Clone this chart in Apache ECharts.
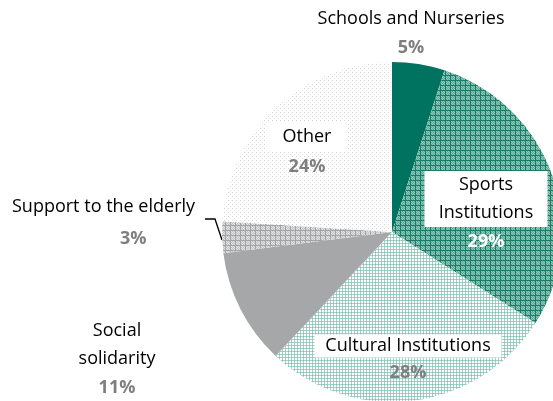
<!DOCTYPE html>
<html>
<head>
<meta charset="utf-8">
<script src="https://cdn.jsdelivr.net/npm/echarts@6/dist/echarts.min.js"></script>
<style>
  html, body { margin: 0; padding: 0; background: #fff; }
  #main { width: 553px; height: 401px; }
</style>
</head>
<body>
<div id="main"></div>
<script>
// data
var categories = ['Schools and Nurseries', 'Sports Institutions', 'Cultural Institutions', 'Social solidarity', 'Support to the elderly', 'Other'];
var shares = [5, 29, 28, 11, 3, 24];
// how the names are broken over lines
var labelNames = [['Schools and Nurseries'], ['Sports', 'Institutions'], ['Cultural Institutions'], ['Social', 'solidarity'], ['Support to the elderly'], ['Other']];

// label anchors (center of label block)
var labelPos = [[411, 34], [486, 214], [408, 361], [117, 360], [12, 225], [307, 152]];

// small tile patterns, like excel's pattern fills
function tile(size, draw) {
    var c = document.createElement('canvas');
    c.width = size; c.height = size;
    var ctx = c.getContext('2d');
    draw(ctx);
    return c;
}
function px(ctx, x, y, col) { ctx.fillStyle = col; ctx.fillRect(x, y, 1, 1); }

var sportsTile = tile(5, function (ctx) {
    for (var y = 0; y < 5; y++) for (var x = 0; x < 5; x++) {
        var col = (x + y) % 2 ? '#5aab98' : '#8fc7ba';
        if (x === 0 || y === 0) col = '#1c7b67';
        px(ctx, x, y, col);
    }
});
var culturalTile = tile(3, function (ctx) {
    for (var y = 0; y < 3; y++) for (var x = 0; x < 3; x++) {
        var col = '#ffffff';
        if (x === 0 || y === 0) col = '#a3d2c6';
        if (x === 0 && y === 0) col = '#84c1b2';
        px(ctx, x, y, col);
    }
});
var elderlyTile = tile(5, function (ctx) {
    for (var y = 0; y < 5; y++) for (var x = 0; x < 5; x++) {
        var col = (x + y) % 2 ? '#c4c5c6' : '#e2e2e3';
        if (x === 0 || y === 0) col = '#a3a4a6';
        px(ctx, x, y, col);
    }
});
var otherTile = tile(4, function (ctx) {
    ctx.fillStyle = '#ffffff'; ctx.fillRect(0, 0, 4, 4);
    px(ctx, 0, 0, '#d4d4d4');
    px(ctx, 2, 2, '#e2e2e2');
});

var fills = [
    '#007260',
    { image: sportsTile, repeat: 'repeat' },
    { image: culturalTile, repeat: 'repeat' },
    '#a6a7a9',
    { image: elderlyTile, repeat: 'repeat' },
    { image: otherTile, repeat: 'repeat' }
];

var font = '"Open Sans", sans-serif';
var rich = {
    n: { fontFamily: font, fontSize: 18, color: '#000', lineHeight: 28 },
    p: { fontFamily: font, fontSize: 18, fontWeight: 'bold', color: '#7f7f7f', lineHeight: 30 },
    pw: { fontFamily: font, fontSize: 18, fontWeight: 'bold', color: '#fff', lineHeight: 30 },
    sp: { fontFamily: font, fontSize: 18, color: '#000', lineHeight: 28, height: 28, width: 123, align: 'center', backgroundColor: '#fff' },
    cu: { fontFamily: font, fontSize: 18, color: '#000', lineHeight: 23, height: 23, width: 187, align: 'center', backgroundColor: '#fff' },
    ot: { fontFamily: font, fontSize: 18, color: '#000', lineHeight: 30, height: 30, width: 81, align: 'center', backgroundColor: '#fff' },
    pe: { fontFamily: font, fontSize: 18, fontWeight: 'bold', color: '#7f7f7f', lineHeight: 36, padding: [0, 0, 0, 108] }
};
var nameStyle = ['n', 'sp', 'cu', 'n', 'n', 'ot'];
var pctStyle = ['p', 'pw', 'p', 'p', 'pe', 'p'];

var seriesData = categories.map(function (c, i) {
    return {
        name: c,
        value: shares[i],
        itemStyle: { color: fills[i] },
        labelLine: { show: i === 4 }
    };
});

var chart = echarts.init(document.getElementById('main'), null, { renderer: 'canvas' });
chart.setOption({
    animation: false,
    series: [{
        type: 'pie',
        center: [392, 232],
        radius: 170,
        startAngle: 90,
        clockwise: true,
        avoidLabelOverlap: false,
        itemStyle: { borderWidth: 0 },
        label: {
            show: true,
            position: 'outside',
            rich: rich,
            formatter: function (p) {
                var i = p.dataIndex;
                var lines = labelNames[i].map(function (t) { return '{' + nameStyle[i] + '|' + t + '}'; });
                lines.push('{' + pctStyle[i] + '|' + p.value + '%}');
                return lines.join('\n');
            }
        },
        labelLine: { lineStyle: { color: '#000', width: 1.3 } },
        labelLayout: function (params) {
            var i = params.dataIndex;
            var out = {
                x: labelPos[i][0],
                y: labelPos[i][1],
                align: i === 4 ? 'left' : 'center',
                verticalAlign: 'middle',
                hideOverlap: false,
                moveOverlap: false
            };
            if (i === 4) out.labelLinePoints = [[205, 219], [215, 219], [222, 240]];
            return out;
        },
        data: seriesData
    }]
});
</script>
</body>
</html>
